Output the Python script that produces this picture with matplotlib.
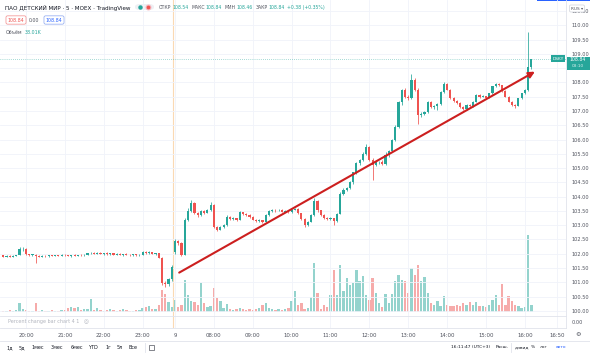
import matplotlib
matplotlib.use('Agg')
import matplotlib.pyplot as plt
import numpy as np
from matplotlib.patches import Rectangle, FancyBboxPatch
from matplotlib.lines import Line2D

# 5-minute candles, DSKY (evening session then day session)
opens = [
    101.94, 101.90, 101.93, 101.89, 101.93, 101.95, 102.15, 102.18, 101.98, 101.96,
    101.97, 101.93, 101.89, 101.93, 101.91, 101.94, 101.92, 101.95, 101.93, 101.96,
    101.94, 101.92, 101.95, 101.93, 101.96, 101.94, 101.97, 102.01, 102.04, 102.00,
    102.03, 101.99, 102.02, 101.98, 102.01, 101.97, 102.00, 101.96, 101.98, 101.97,
    101.95, 101.98, 101.94, 101.96, 102.07, 102.02, 102.05, 101.99, 102.01, 101.86,
    100.98, 100.93, 101.10,
    102.05, 102.45, 102.38, 101.97, 103.20, 103.50, 103.78,
    103.42, 103.36, 103.50, 103.44, 103.52, 103.72, 102.95, 102.85, 102.95, 103.00,
    103.30, 103.22, 103.25, 103.20, 103.45, 103.40, 103.35, 103.30, 103.20, 103.15,
    103.18, 103.12, 103.35, 103.50, 103.55, 103.52, 103.55, 103.48, 103.50, 103.45,
    103.55, 103.58, 103.42, 103.22, 103.02, 103.12, 103.35, 103.85, 103.52, 103.36,
    103.26, 103.21, 103.24, 103.15, 103.40, 104.10, 104.25, 104.30, 104.50, 104.85,
    105.18, 105.28, 105.50, 105.75, 105.30, 105.12, 105.20, 105.22, 105.15, 105.45,
    105.60, 105.98, 106.45, 107.30, 107.74, 107.50, 107.45, 108.10, 107.75, 106.86,
    106.90, 106.95, 107.32, 107.15, 107.18, 107.25, 107.67, 107.95, 107.75, 107.45,
    107.35, 107.28, 107.15, 107.06, 107.22, 107.16, 107.32, 107.56, 107.50, 107.52,
    107.46, 107.62, 107.86, 107.95, 107.90, 107.70, 107.50, 107.32, 107.20, 107.18,
    107.45, 107.62, 107.75, 108.54]
closes = [
    101.90, 101.93, 101.89, 101.93, 101.95, 102.15, 102.18, 101.98, 101.96, 101.97,
    101.93, 101.89, 101.93, 101.91, 101.94, 101.92, 101.95, 101.93, 101.96, 101.94,
    101.92, 101.95, 101.93, 101.96, 101.94, 101.97, 102.01, 102.04, 102.00, 102.03,
    101.99, 102.02, 101.98, 102.01, 101.97, 102.00, 101.96, 101.98, 101.97, 101.95,
    101.98, 101.94, 101.96, 102.07, 102.02, 102.05, 101.99, 102.01, 101.86, 100.98,
    100.93, 101.10, 101.55,
    102.45, 102.38, 101.97, 103.20, 103.50, 103.78, 103.42,
    103.36, 103.50, 103.44, 103.52, 103.72, 102.95, 102.85, 102.95, 103.00, 103.30,
    103.22, 103.25, 103.20, 103.45, 103.40, 103.35, 103.30, 103.20, 103.15, 103.18,
    103.12, 103.35, 103.50, 103.55, 103.52, 103.55, 103.48, 103.50, 103.45, 103.55,
    103.58, 103.42, 103.22, 103.02, 103.12, 103.35, 103.85, 103.52, 103.36, 103.26,
    103.21, 103.24, 103.15, 103.40, 104.10, 104.25, 104.30, 104.50, 104.85, 105.18,
    105.28, 105.50, 105.75, 105.30, 105.12, 105.20, 105.22, 105.15, 105.45, 105.60,
    105.98, 106.45, 107.30, 107.74, 107.50, 107.45, 108.10, 107.75, 106.86, 106.90,
    106.95, 107.32, 107.15, 107.18, 107.25, 107.67, 107.95, 107.75, 107.45, 107.35,
    107.28, 107.15, 107.06, 107.22, 107.16, 107.32, 107.56, 107.50, 107.52, 107.46,
    107.62, 107.86, 107.95, 107.90, 107.70, 107.50, 107.32, 107.20, 107.18, 107.45,
    107.62, 107.75, 108.54, 108.84]
highs = [
    101.96, 101.95, 101.95, 101.94, 101.97, 102.22, 102.22, 102.19, 102.00, 101.99,
    101.98, 101.95, 101.94, 101.95, 101.95, 101.96, 101.96, 101.97, 101.98, 101.99,
    101.97, 101.96, 101.98, 101.97, 101.98, 101.98, 102.03, 102.06, 102.06, 102.05,
    102.06, 102.04, 102.05, 102.03, 102.04, 102.02, 102.03, 102.00, 102.02, 102.00,
    101.99, 102.00, 101.98, 102.10, 102.10, 102.08, 102.07, 102.04, 102.02, 101.88,
    101.05, 101.15, 101.62,
    102.50, 102.48, 102.42, 103.25, 103.60, 103.88, 103.80,
    103.47, 103.55, 103.54, 103.56, 103.82, 103.75, 102.98, 102.97, 103.03, 103.35,
    103.32, 103.28, 103.27, 103.50, 103.48, 103.43, 103.38, 103.32, 103.23, 103.21,
    103.20, 103.38, 103.53, 103.58, 103.57, 103.58, 103.57, 103.53, 103.52, 103.58,
    103.62, 103.59, 103.44, 103.25, 103.15, 103.38, 103.95, 103.88, 103.55, 103.40,
    103.30, 103.28, 103.26, 103.42, 104.15, 104.30, 104.35, 104.55, 104.88, 105.22,
    105.32, 105.55, 105.85, 105.78, 105.35, 105.25, 105.26, 105.28, 105.55, 105.65,
    106.02, 106.50, 107.35, 107.78, 107.80, 107.56, 108.30, 108.15, 107.80, 106.95,
    107.00, 107.36, 107.35, 107.22, 107.28, 107.70, 108.02, 107.98, 107.78, 107.48,
    107.38, 107.30, 107.18, 107.25, 107.24, 107.35, 107.58, 107.58, 107.55, 107.54,
    107.64, 107.88, 107.98, 107.98, 107.92, 107.72, 107.52, 107.34, 107.24, 107.47,
    107.64, 107.78, 109.77, 108.84]
lows = [
    101.88, 101.89, 101.88, 101.88, 101.91, 101.94, 102.08, 101.95, 101.93, 101.93,
    101.68, 101.88, 101.88, 101.90, 101.90, 101.91, 101.91, 101.91, 101.92, 101.92,
    101.91, 101.90, 101.92, 101.92, 101.92, 101.93, 101.95, 101.98, 101.99, 101.98,
    101.98, 101.97, 101.96, 101.96, 101.95, 101.95, 101.95, 101.93, 101.95, 101.92,
    101.93, 101.92, 101.92, 101.95, 102.00, 101.99, 101.98, 101.96, 101.84, 100.92,
    100.84, 100.88, 101.05,
    101.98, 102.30, 101.92, 101.95, 103.15, 103.45, 103.38,
    103.30, 103.34, 103.40, 103.42, 103.50, 102.90, 102.80, 102.83, 102.92, 102.98,
    103.18, 103.19, 103.16, 103.18, 103.36, 103.31, 103.27, 103.17, 103.12, 103.12,
    103.09, 103.10, 103.33, 103.48, 103.48, 103.49, 103.45, 103.45, 103.42, 103.43,
    103.52, 103.38, 103.20, 102.95, 102.98, 103.10, 103.32, 103.48, 103.32, 103.22,
    103.17, 103.18, 103.00, 103.12, 103.38, 104.05, 104.20, 104.27, 104.45, 104.80,
    105.12, 105.25, 105.45, 105.25, 104.60, 105.08, 105.15, 105.10, 105.12, 105.40,
    105.55, 105.95, 106.40, 107.22, 107.45, 107.40, 107.42, 107.70, 106.55, 106.80,
    106.85, 106.92, 107.10, 107.08, 107.05, 107.20, 107.62, 107.72, 107.42, 107.32,
    107.26, 107.12, 107.03, 107.04, 107.13, 107.14, 107.30, 107.47, 107.48, 107.44,
    107.44, 107.60, 107.84, 107.88, 107.68, 107.48, 107.30, 107.18, 107.10, 107.16,
    107.43, 107.60, 107.70, 108.46]
# volume, thousands
volumes = [
    5, 5, 11, 5, 11, 49, 16, 11, 5, 5, 49, 5, 11, 5, 5, 11, 5, 5, 11, 11,
    22, 27, 22, 27, 11, 16, 16, 70, 11, 22, 11, 5, 11, 16, 11, 5, 11, 16, 11, 5,
    5, 11, 11, 22, 27, 32, 16, 16, 38, 119, 97, 54, 27,
    65, 27, 38, 173, 92, 59, 54,
    38, 157, 49, 27, 32, 130, 76, 59, 22, 43,
    16, 11, 16, 22, 16, 11, 16, 11, 16, 22,
    38, 49, 22, 16, 11, 16, 11, 16, 22, 59,
    113, 38, 49, 16, 22, 81, 265, 103, 16, 38,
    27, 92, 227, 92, 254, 113, 184, 146, 157, 227,
    167, 194, 92, 65, 184, 103, 49, 27, 97, 49,
    97, 167, 200, 173, 167, 103, 238, 200, 254, 167,
    189, 103, 49, 38, 59, 32, 86, 38, 32, 32,
    38, 32, 49, 38, 54, 38, 54, 32, 32, 27,
    38, 65, 92, 38, 151, 38, 86, 59, 38, 32,
    22, 27, 416, 38.01]

tick_pos = [7, 19, 31, 43, 53, 65, 77, 89, 101, 113, 125, 137, 149, 161, 171]
tick_labels = ['20:00', '21:00', '22:00', '23:00', '9', '08:00', '09:00', '10:00',
               '11:00', '12:00', '13:00', '14:00', '15:00', '16:00', '16:50']
price_ticks = np.arange(100, 110.51, 0.5)
session_break = 52.5
trend_start = (54.3, 101.34)
trend_end = (164.1, 108.38)
last_price = 108.84

UP, DN = '#26a69a', '#ef5350'
UPV, DNV = '#94d3cd', '#f6abaa'
GRID = '#f0f3fa'
LINE = '#e0e3eb'
TXT = '#50535e'

W, H = 590, 354
fig = plt.figure(figsize=(5.9, 3.54), dpi=100)
fig.patch.set_facecolor('white')


def fx(x):
    return x / W


def fy(y):
    return 1 - y / H


# main pane
ax = fig.add_axes([0, fy(316), 566 / W, 316 / H])
axv = ax.twinx()
ax.set_zorder(2)
axv.set_zorder(1)
ax.patch.set_visible(False)

x = np.arange(len(opens))
o = np.array(opens)
c = np.array(closes)
h = np.array(highs)
l = np.array(lows)
up = c >= o
col = np.where(up, UP, DN)
vcol = np.where(up, UPV, DNV)

axv.bar(x, volumes, width=0.72, color=vcol, linewidth=0)
axv.set_ylim(-21.7, 1694)
axv.set_yticks([])
for s in axv.spines.values():
    s.set_visible(False)

ax.vlines(x, l, h, colors=col, linewidth=0.55)
ax.bar(x, np.maximum(np.abs(c - o), 0.015), bottom=np.minimum(o, c),
       width=0.66, color=col, linewidth=0)

ax.axvline(session_break, color='#fad9b3', lw=0.8, zorder=0)
ax.axhline(last_price, color=UP, lw=0.5, ls=(0, (1, 2)), alpha=0.8)

ax.annotate('', xy=trend_end, xytext=trend_start,
            arrowprops=dict(arrowstyle='-|>', color='#cc1f1f', lw=1.5,
                            mutation_scale=9, shrinkA=0, shrinkB=0))

ax.set_xlim(-1.02, 173.7)
ax.set_ylim(99.82, 110.89)
ax.set_xticks(tick_pos)
ax.tick_params(axis='x', length=0, labelbottom=False)
ax.yaxis.tick_right()
ax.set_yticks(price_ticks)
# the 108.50 label sits under the last-price badge, as on the screen
ax.set_yticklabels(['' if abs(v - 108.5) < 1e-6 else '%.2f' % v for v in price_ticks])
ax.tick_params(axis='y', length=0, pad=4, labelsize=3.6, labelcolor=TXT)
ax.grid(color=GRID, lw=0.6)
ax.set_axisbelow(True)
for k, s in ax.spines.items():
    s.set_visible(k == 'right')
ax.spines['right'].set_color(LINE)
ax.spines['right'].set_linewidth(0.6)

# indicator sub-pane + time axis
axs = fig.add_axes([0, fy(328), 566 / W, 12 / H], sharex=ax)
axs.set_ylim(-1, 1)
axs.axvline(session_break, color='#fad9b3', lw=0.8, zorder=0)
axs.grid(axis='x', color=GRID, lw=0.6)
axs.set_xticklabels(tick_labels)
axs.tick_params(axis='x', length=0, pad=3.5, labelsize=3.9, labelcolor=TXT)
axs.yaxis.tick_right()
axs.set_yticks([0])
axs.set_yticklabels(['0.00'])
axs.tick_params(axis='y', length=0, pad=4, labelsize=3.6, labelcolor=TXT)
for k, s in axs.spines.items():
    s.set_color(LINE)
    s.set_linewidth(0.6)
axs.spines['left'].set_visible(False)
axs.text(0.014, 0.5, 'Percent change bar chart 4 1', transform=axs.transAxes,
         fontsize=3.5, color='#b2b5be', va='center')
axs.text(0.148, 0.5, '◎', transform=axs.transAxes, fontsize=4, color='#b2b5be',
         va='center')

# header
fig.text(fx(5), fy(8), 'ПАО ДЕТСКИЙ МИР · 5 · MOEX · TradingView',
         fontsize=4.1, color='#131722', va='center')
fig.patches.append(FancyBboxPatch((fx(135), fy(10)), fx(19), 6 / H,
                                  boxstyle='round,pad=0,rounding_size=0.008',
                                  transform=fig.transFigure, fc='#eef0f4', ec='none'))
fig.add_artist(Line2D([fx(140)], [fy(7)], marker='o', ms=2.2, color=UP,
                      transform=fig.transFigure))
fig.add_artist(Line2D([fx(148)], [fy(7)], marker='o', ms=3.2, color='#f7b4bc',
                      transform=fig.transFigure))
fig.add_artist(Line2D([fx(148)], [fy(7)], marker='o', ms=1.6, color=DN,
                      transform=fig.transFigure))

# OHLC line: chain the pieces one after the other
ohlc_parts = [('ОТКР', TXT, 0.6), ('108.54', UP, 3.0), ('МАКС', TXT, 0.6),
              ('108.84', UP, 3.0), ('МИН', TXT, 0.6), ('108.46', UP, 3.0),
              ('ЗАКР', TXT, 0.6), ('108.84', UP, 3.0), ('+0.38 (+0.35%)', UP, 0)]
renderer = fig.canvas.get_renderer()
cur = 159
for s, cc, gap in ohlc_parts:
    t = fig.text(fx(cur), fy(7.5), s, fontsize=3.3, color=cc, va='center')
    cur += t.get_window_extent(renderer=renderer).width + gap

fig.text(fx(16), fy(20), '108.84', fontsize=3.4, color=DN, va='center', ha='center',
         bbox=dict(boxstyle='round,pad=0.35', fc='white', ec='#f28b8b', lw=0.5))
fig.text(fx(34), fy(20), '0.00', fontsize=3.4, color=TXT, va='center', ha='center')
fig.text(fx(54), fy(20), '108.84', fontsize=3.4, color='#2962ff', va='center',
         ha='center', bbox=dict(boxstyle='round,pad=0.35', fc='white', ec='#8aa5f0', lw=0.5))
fig.text(fx(6), fy(32), 'Объём', fontsize=3.4, color=TXT, va='center')
fig.text(fx(25), fy(32), '38.01K', fontsize=3.4, color=UP, va='center')

# top-right corner
fig.patches.append(Rectangle((fx(537), fy(1.2)), fx(53), 1.2 / H,
                             transform=fig.transFigure, fc='#2962ff', ec='none'))
fig.text(fx(577), fy(8.5), 'RUS ▾', fontsize=3.1, color=TXT, va='center', ha='center',
         bbox=dict(boxstyle='round,pad=0.35', fc='white', ec='#d1d4dc', lw=0.5))

# last price labels
fig.text(fx(558), fy(58.6), 'DSKY', fontsize=3.2, color='white', va='center', ha='center',
         bbox=dict(boxstyle='square,pad=0.3', fc=UP, ec='none'))
fig.patches.append(Rectangle((fx(567), fy(70)), fx(23), 13.5 / H,
                             transform=fig.transFigure, fc=UP, ec='none'))
fig.text(fx(578), fy(59.5), '108.84', fontsize=3.3, color='white', va='center', ha='center')
fig.text(fx(578), fy(66), '03:10', fontsize=3.1, color='#d4efec', va='center', ha='center')

# settings gear
fig.text(fx(578), fy(334), '⚙', fontsize=4.5, color=TXT, va='center', ha='center')

# bottom toolbar
fig.add_artist(Line2D([0, 1], [fy(340.5), fy(340.5)], color=LINE, lw=0.6,
                      transform=fig.transFigure))
ranges = [(10, '1д'), (22, '5д'), (38, '1мес'), (57, '3мес'), (77, '6мес'),
          (93, 'YTD'), (108, '1г'), (120, '5л'), (133, 'Все')]
for px, s in ranges:
    fig.text(fx(px), fy(347.5), s, fontsize=3.5, color='#131722', va='center', ha='center')
fig.add_artist(Line2D([fx(145), fx(145)], [fy(343), fy(352)], color=LINE, lw=0.6,
                      transform=fig.transFigure))
fig.patches.append(Rectangle((fx(149), fy(350)), fx(5), 5 / H, transform=fig.transFigure,
                             fc='none', ec=TXT, lw=0.5))
right_items = [(471, '16:11:47 (UTC+3)', '#131722'), (502, 'Расш.', '#131722'),
               (522, 'дивид', '#131722'), (533, '%', '#131722'),
               (544, 'лог', '#131722'), (561, 'авто', '#2962ff')]
for px, s, cc in right_items:
    fig.text(fx(px), fy(347.5), s, fontsize=3.2, color=cc, va='center', ha='center')
fig.add_artist(Line2D([fx(511), fx(511)], [fy(343), fy(352)], color=LINE, lw=0.6,
                      transform=fig.transFigure))

plt.savefig('out.png', dpi=100)
